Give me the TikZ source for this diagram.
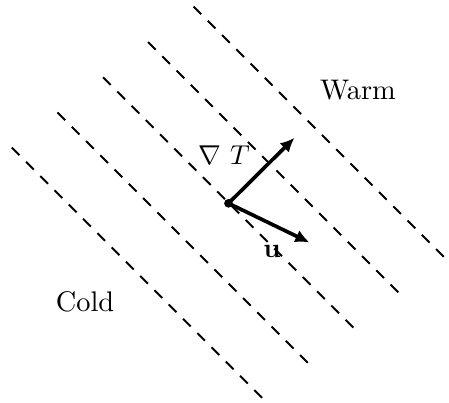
\documentclass[tikz,border=0pt]{standalone}
\usetikzlibrary{arrows.meta}
\begin{document}
\begin{tikzpicture}[x=0.3667pt,y=-0.3667pt,
  isoline/.style={dash pattern=on 4pt off 3.4pt, line width=0.7pt},
  vecarrow/.style={-{Latex[length=5.2pt,width=4.8pt]}, line width=1.35pt},
  lbl/.style={inner sep=0pt, font=\fontsize{10.4}{12}\selectfont}]
\useasboundingbox (0,0) rectangle (449,402);
% isotherms
\foreach \i/\x/\y in {1/193.5/6.5, 2/148/42, 3/103/77.3, 4/57.5/112.5, 5/11.8/147.5} {
  \coordinate (a\i) at (\x,\y);
  \coordinate (b\i) at (\x+250.3,\y+250.3);
  \draw[isoline] (a\i) -- (b\i);
}
% vectors
\coordinate (o) at (228.5,203.3);
\coordinate (g) at (294.5,137.8);
\coordinate (u) at (309.5,242.5);
\draw[vecarrow] (o) -- (g);
\draw[vecarrow] (o) -- (u);
\fill (o) circle (1.6pt);
% labels
\node[lbl] (warm) at (358,90) {Warm};
\node[lbl] (cold) at (85,302) {Cold};
\node[lbl] (gradT) at (224,155) {$\nabla\ T$};
\node[lbl] (ulab) at (272,251) {$\mathbf{u}$};
\end{tikzpicture}
\end{document}
